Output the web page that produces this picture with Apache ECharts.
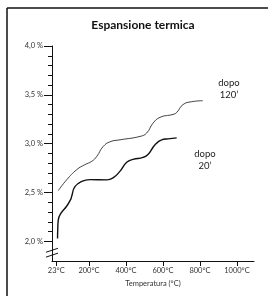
<!DOCTYPE html>
<html>
<head>
<meta charset="utf-8">
<script src="https://cdn.jsdelivr.net/npm/echarts@6/dist/echarts.min.js"></script>
<style>
  html, body { margin: 0; padding: 0; background: #fff; }
  #main { width: 268px; height: 296px; }
</style>
</head>
<body>
<div id="main"></div>
<script>
// curve after 120 minutes (thin line): [temperature °C, expansion %]
const dopo120 = [
  [34, 2.52], [79, 2.63], [134, 2.735], [178, 2.786], [215, 2.82], [242, 2.87],
  [276, 2.97], [314, 3.02], [368, 3.04], [476, 3.075], [512, 3.11], [546, 3.21],
  [584, 3.27], [654, 3.30], [674, 3.32], [708, 3.40], [755, 3.43], [815, 3.44]
];
// curve after 20 minutes (thick line)
const dopo20 = [
  [30, 2.03], [31, 2.12], [34, 2.22], [49, 2.29], [79, 2.36], [101, 2.43],
  [106, 2.46], [124, 2.56], [161, 2.615], [205, 2.633], [296, 2.63], [330, 2.65],
  [368, 2.72], [404, 2.81], [438, 2.84], [492, 2.86], [519, 2.89], [557, 2.99],
  [593, 3.04], [627, 3.05], [674, 3.06]
];
const xTicks = [23, 200, 400, 600, 800, 1000];
const yMajor = [2.0, 2.5, 3.0, 3.5, 4.0];
const yMinor = [2.1, 2.2, 2.3, 2.4, 2.6, 2.7, 2.8, 2.9, 3.1, 3.2, 3.3, 3.4, 3.6, 3.7, 3.8, 3.9];

const font = 'Lato';
const chart = echarts.init(document.getElementById('main'));

chart.setOption({
  animation: false,
  title: {
    text: 'Espansione termica',
    left: 138, top: 14, textAlign: 'center',
    textStyle: { fontFamily: font, fontSize: 12, fontWeight: 'bold', color: '#111' }
  },
  grid: { left: 52, right: 14, top: 46, bottom: 35 },
  xAxis: {
    type: 'value', min: 0, max: 1092,
    splitLine: { show: false },
    axisLine: { lineStyle: { color: '#111', width: 1 } },
    axisTick: { customValues: xTicks, length: 5, lineStyle: { color: '#111' } },
    axisLabel: {
      customValues: xTicks, margin: 6, fontFamily: font, fontSize: 7.5, color: '#333',
      formatter: v => v + '°C'
    },
    name: 'Temperatura (°C)', nameLocation: 'middle', nameGap: 18,
    nameTextStyle: { fontFamily: font, fontSize: 7.5, color: '#333' }
  },
  yAxis: [
    {
      type: 'value', min: 1.8, max: 4.0,
      splitLine: { show: false },
      axisLine: { show: true, lineStyle: { color: '#111', width: 1 } },
      axisTick: { customValues: yMajor, length: 8, lineStyle: { color: '#111' } },
      axisLabel: {
        customValues: yMajor, margin: 9, fontFamily: font, fontSize: 7.5, color: '#333',
        formatter: v => v.toFixed(1).replace('.', ',') + ' %'
      }
    },
    {
      type: 'value', min: 1.8, max: 4.0, position: 'left',
      splitLine: { show: false },
      axisLine: { show: false },
      axisTick: { customValues: yMinor, length: 4, lineStyle: { color: '#111' } },
      axisLabel: { show: false }
    }
  ],
  series: [
    {
      name: "dopo 120'", type: 'line', data: dopo120, smooth: 0.5,
      showSymbol: false, lineStyle: { color: '#111', width: 0.8 }
    },
    {
      name: "dopo 20'", type: 'line', data: dopo20, smooth: 0.5,
      showSymbol: false, lineStyle: { color: '#111', width: 1.4 }
    }
  ]
});

// frame, axis break and curve labels
const yA = chart.convertToPixel({ yAxisIndex: 0 }, 1.91);
const yB = chart.convertToPixel({ yAxisIndex: 0 }, 1.86);
const ax = chart.convertToPixel({ xAxisIndex: 0 }, 0);
const lbl = { fontFamily: font, fontSize: 9.5, fill: '#222', align: 'center', lineHeight: 12 };
chart.setOption({
  graphic: [
    { type: 'line', shape: { x1: 7, y1: 8, x2: 268, y2: 8 }, style: { stroke: '#111', lineWidth: 1.5 } },
    { type: 'line', shape: { x1: 7, y1: 8, x2: 7, y2: 296 }, style: { stroke: '#111', lineWidth: 1.5 } },
    { type: 'rect', shape: { x: ax - 2, y: yA, width: 4, height: yB - yA }, style: { fill: '#fff' } },
    { type: 'line', shape: { x1: ax - 6, y1: yA + 2, x2: ax + 6, y2: yA - 2 }, style: { stroke: '#111', lineWidth: 1 } },
    { type: 'line', shape: { x1: ax - 6, y1: yB + 2, x2: ax + 6, y2: yB - 2 }, style: { stroke: '#111', lineWidth: 1 } },
    { type: 'text', x: 229, y: 77, style: Object.assign({ text: 'dopo\n120’' }, lbl) },
    { type: 'text', x: 205, y: 148, style: Object.assign({ text: 'dopo\n20’' }, lbl) }
  ]
});
</script>
</body>
</html>
